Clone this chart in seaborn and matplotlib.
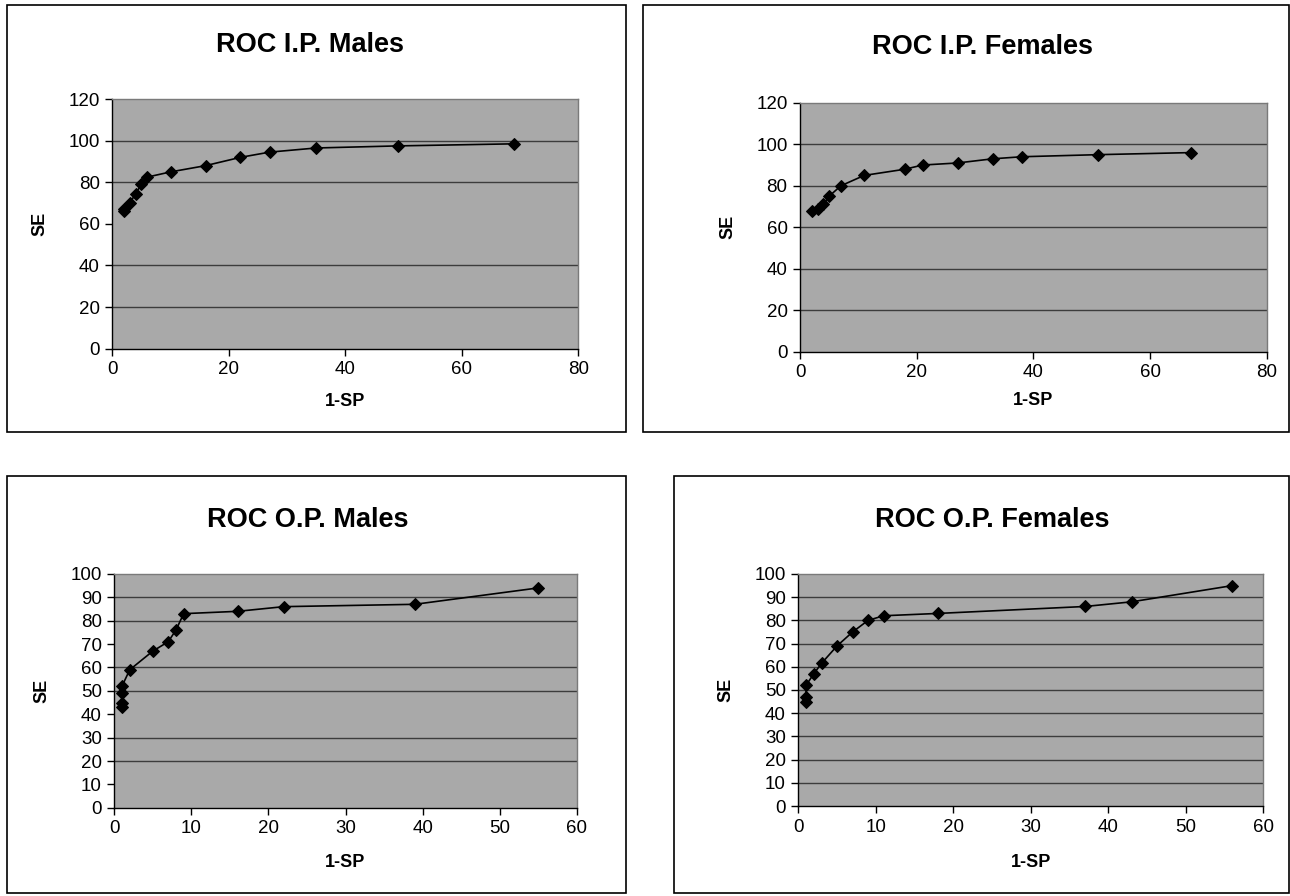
import matplotlib
matplotlib.use("Agg")
import matplotlib.pyplot as plt
import seaborn as sns
import pandas as pd
from matplotlib.patches import Rectangle

# ---- data ----
titles = ["ROC I.P. Males", "ROC I.P. Females", "ROC O.P. Males", "ROC O.P. Females"]
x_label = "1-SP"
y_label = "SE"

ipm_fpr = [2, 2, 3, 4, 5, 6, 10, 16, 22, 27, 35, 49, 69]
ipm_se = [66, 67, 70, 74.5, 79, 82.5, 85, 88, 92, 94.5, 96.5, 97.5, 98.5]

ipf_fpr = [2, 3, 4, 5, 7, 11, 18, 21, 27, 33, 38, 51, 67]
ipf_se = [68, 69, 71, 75, 80, 85, 88, 90, 91, 93, 94, 95, 96]

opm_fpr = [1, 1, 1, 1, 2, 5, 7, 8, 9, 16, 22, 39, 55]
opm_se = [43, 45, 49, 52, 59, 67, 71, 76, 83, 84, 86, 87, 94]

opf_fpr = [1, 1, 1, 2, 3, 5, 7, 9, 11, 18, 37, 43, 56]
opf_se = [45, 47, 52, 57, 61.5, 69, 75, 80, 82, 83, 86, 88, 95]

ip_xticks = [0, 20, 40, 60, 80]
ip_yticks = [0, 20, 40, 60, 80, 100, 120]
op_xticks = [0, 10, 20, 30, 40, 50, 60]
op_yticks = [0, 10, 20, 30, 40, 50, 60, 70, 80, 90, 100]

# visible horizontal gridlines in the reference
grid_ipm = [20, 40, 80, 100]
grid_ipf = [20, 40, 60, 80, 100]
grid_opm = [20, 30, 50, 60, 80, 90]
grid_opf = [10, 20, 30, 40, 50, 60, 70, 80, 90]

# ---- layout ----
W, H = 1290, 896
plt.rcParams["font.family"] = ["Liberation Sans", "DejaVu Sans"]

fig = plt.figure(figsize=(W / 100, H / 100), dpi=100)
fig.patch.set_facecolor("white")

def fx(px):
    return px / W

def fy(py):
    return 1 - py / H

panels = [
    dict(x=ipm_fpr, y=ipm_se, title=titles[0], xt=ip_xticks, yt=ip_yticks, grid=grid_ipm,
         ax=(112.3, 99.1, 578.3, 348.7), frame=(7, 5, 626, 432),
         tpos=(310, 45), selx=40, xly=401.5),
    dict(x=ipf_fpr, y=ipf_se, title=titles[1], xt=ip_xticks, yt=ip_yticks, grid=grid_ipf,
         ax=(800, 102.8, 1266.7, 351.8), frame=(643, 5, 1289, 432),
         tpos=(982, 47), selx=728, xly=400),
    dict(x=opm_fpr, y=opm_se, title=titles[2], xt=op_xticks, yt=op_yticks, grid=grid_opm,
         ax=(114.3, 573.9, 576.7, 807.8), frame=(7, 476, 626, 893),
         tpos=(308, 520), selx=42, xly=862),
    dict(x=opf_fpr, y=opf_se, title=titles[3], xt=op_xticks, yt=op_yticks, grid=grid_opf,
         ax=(798.3, 574, 1263.3, 806), frame=(674, 476, 1289, 893),
         tpos=(992, 520), selx=726, xly=862),
]

for p in panels:
    x0, y0, x1, y1 = p["frame"]
    fig.add_artist(Rectangle((fx(x0), fy(y1)), fx(x1 - x0), (y1 - y0) / H,
                             transform=fig.transFigure, fill=False,
                             edgecolor="black", linewidth=1.2))

    l, t, r, b = p["ax"]
    ax = fig.add_axes([fx(l), fy(b), fx(r - l), (b - t) / H])
    ax.set_facecolor("#a9a9a9")
    ax.set_axisbelow(True)
    for g in p["grid"]:
        ax.axhline(g, color="#3c3c3c", linewidth=1.0, zorder=0.5)

    df = pd.DataFrame({"fpr": p["x"], "se": p["y"]})
    sns.lineplot(data=df, x="fpr", y="se", ax=ax, estimator=None, sort=False,
                 color="black", linewidth=1.2, marker="D", markersize=6,
                 markeredgecolor="black", markerfacecolor="black")

    ax.set_xlim(p["xt"][0], p["xt"][-1])
    ax.set_ylim(p["yt"][0], p["yt"][-1])
    ax.set_xticks(p["xt"])
    ax.set_yticks(p["yt"])
    ax.tick_params(axis="both", direction="out", length=5, width=1,
                   color="black", labelsize=13.5, pad=4)

    for s in ("top", "right"):
        ax.spines[s].set_color("#7a7a7a")
        ax.spines[s].set_linewidth(1.0)
    for s in ("left", "bottom"):
        ax.spines[s].set_color("black")
        ax.spines[s].set_linewidth(1.0)

    ax.set_xlabel(x_label, fontsize=13, fontweight="bold")
    ax.set_ylabel(y_label, fontsize=13, fontweight="bold")
    ax.xaxis.label.set_va("center")
    ax.yaxis.label.set_va("center")
    ax.xaxis.set_label_coords(0.5, -(p["xly"] - b) / (b - t))
    ax.yaxis.set_label_coords((p["selx"] - l) / (r - l), 0.5)

    tx, ty = p["tpos"]
    fig.text(fx(tx), fy(ty), p["title"], ha="center", va="center",
             fontsize=19.5, fontweight="bold")

fig.savefig("out.png", dpi=100, facecolor="white")
